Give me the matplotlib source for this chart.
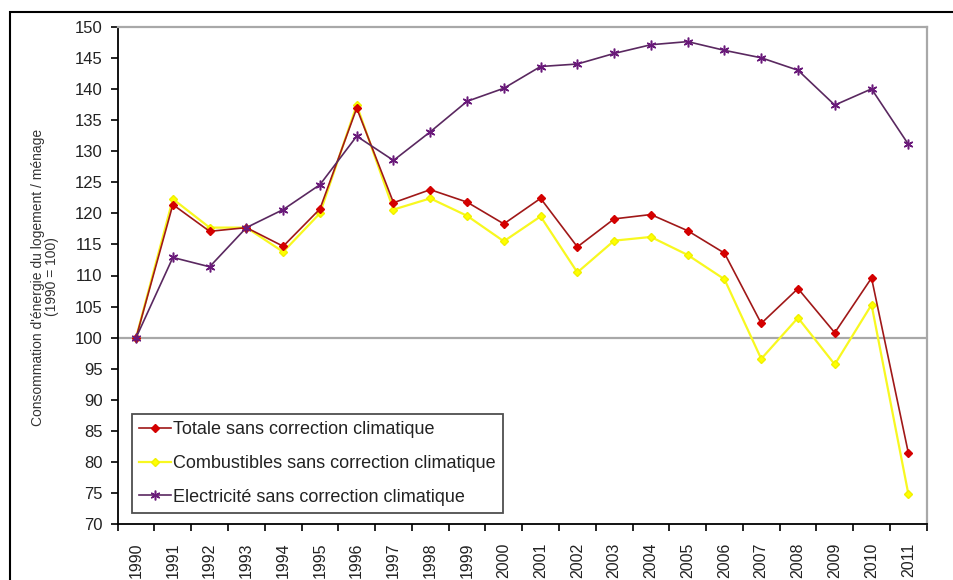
import matplotlib
matplotlib.use("Agg")
import matplotlib.pyplot as plt
from matplotlib.patches import Rectangle
import numpy as np

years = [str(y) for y in range(1990, 2012)]
totale = [100, 121.4, 117.1, 117.7, 114.7, 120.7, 136.9, 121.7, 123.8, 121.8, 118.3,
          122.4, 114.6, 119.1, 119.8, 117.2, 113.6, 102.3, 107.9, 100.8, 109.6, 81.5]
combustibles = [100, 122.3, 117.7, 117.7, 113.8, 120.0, 137.4, 120.6, 122.4, 119.6, 115.5,
                119.5, 110.5, 115.6, 116.2, 113.3, 109.4, 96.6, 103.2, 95.7, 105.3, 74.9]
electricite = [100, 112.9, 111.4, 117.7, 120.6, 124.6, 132.4, 128.5, 133.1, 138.0, 140.1,
               143.6, 144.0, 145.7, 147.1, 147.6, 146.2, 145.0, 143.0, 137.4, 140.0, 131.1]
series_labels = ["Totale sans correction climatique",
                 "Combustibles sans correction climatique",
                 "Electricité sans correction climatique"]
ylabel = "Consommation d'énergie du logement / ménage\n(1990 = 100)"
yticks = list(range(70, 151, 5))

plt.rcParams['font.family'] = ['Liberation Sans', 'DejaVu Sans']

W, H = 954, 580
fig = plt.figure(figsize=(W / 100, H / 100), dpi=100)
ax = fig.add_axes([117.7 / W, 1 - 524.3 / H, (926.7 - 117.7) / W, (524.3 - 26.7) / H])

x = np.arange(len(years))
ax.plot(x, totale, color='#A01818', lw=1.2, marker='D', markersize=4.5,
        markerfacecolor='#D40000', markeredgecolor='#D40000', label=series_labels[0], zorder=4)
ax.plot(x, combustibles, color='#F8F820', lw=1.6, marker='D', markersize=4.5,
        markerfacecolor='#FFFF00', markeredgecolor='#F0F000', label=series_labels[1], zorder=3)
ax.plot(x, electricite, color='#5A2860', lw=1.2, marker=(6, 2, 0), markersize=7,
        markeredgewidth=1.1, markeredgecolor='#6A1A7A', label=series_labels[2], zorder=5)

ax.axhline(100, color='#A8A8A8', lw=1.6, zorder=1)

ax.set_xlim(-0.5, len(years) - 0.5)
ax.set_ylim(70, 150)
ax.set_yticks(yticks)
ax.set_yticklabels([str(v) for v in yticks], fontsize=12, color='#222222')
ax.tick_params(axis='y', direction='out', length=5, width=1.2, pad=6, color='black')

ax.set_xticks(np.arange(-0.5, len(years), 1.0))
ax.set_xticklabels([])
ax.tick_params(axis='x', which='major', direction='out', length=5, width=1.2, color='black')
ax.set_xticks(x, minor=True)
ax.set_xticklabels(years, minor=True, rotation=90, fontsize=11.5, color='#222222')
ax.tick_params(axis='x', which='minor', length=0, pad=13)

for s in ['left', 'bottom']:
    ax.spines[s].set_color('black')
    ax.spines[s].set_linewidth(1.3)
for s in ['top', 'right']:
    ax.spines[s].set_color('#A8A8A8')
    ax.spines[s].set_linewidth(1.6)

fig.text(45 / W, 1 - 277 / H, ylabel, rotation=90, ha='center', va='center',
         fontsize=10, color='#333333', linespacing=0.95, multialignment='center')

leg = ax.legend(loc='upper left', bbox_to_anchor=(131.7 / W, 1 - 414 / H),
                bbox_transform=fig.transFigure, fontsize=13, frameon=True,
                fancybox=False, shadow=False, borderpad=0.4, labelspacing=0.93,
                handlelength=1.8, handletextpad=0.1, borderaxespad=0)
leg.get_frame().set_edgecolor('#222222')
leg.get_frame().set_linewidth(1.3)
for t in leg.get_texts():
    t.set_color('#222222')

fig.patches.append(Rectangle((10 / W, -0.5), 2.0, 0.5 + 1 - 12 / H, transform=fig.transFigure,
                             fill=False, edgecolor='black', lw=1.5))

fig.savefig('out.png', dpi=100)
